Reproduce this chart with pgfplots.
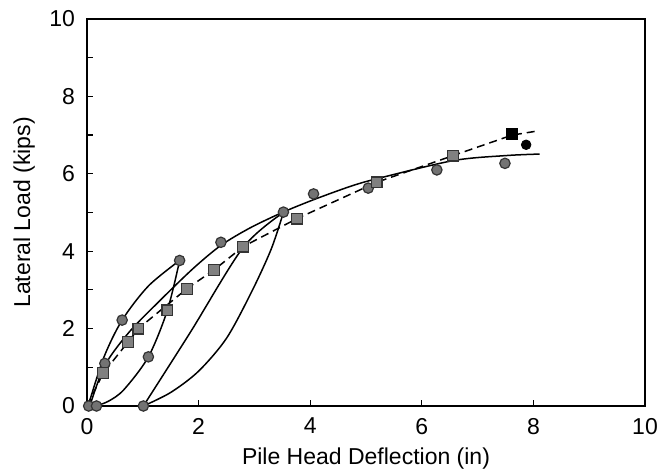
\documentclass[border=0pt]{standalone}
\usepackage{fontspec}
\setmainfont{Liberation Sans}
\usepackage{pgfplots}
\pgfplotsset{compat=1.18}
\usetikzlibrary{calc}
\begin{document}
\fontsize{11.5}{13}\selectfont
\begin{tikzpicture}
\begin{axis}[
  width=279pt, height=193.5pt, scale only axis,
  xmin=0, xmax=10, ymin=0, ymax=10,
  xtick={0,2,...,10}, ytick={0,2,...,10}, minor ytick={1,3,...,9},
  tick pos=left, tick align=inside,
  major tick length=3pt, minor tick length=3pt,
  tick style={black, line width=0.6pt},
  axis line style={line width=0.8pt},
  /pgf/number format/assume math mode=true,
  ticklabel style={font=\fontsize{11.5}{13}\selectfont},
  xticklabel style={yshift=-2pt},
  yticklabel style={xshift=-2pt},
  xlabel={Pile Head Deflection (in)},
  ylabel={Lateral Load (kips)},
  label style={font=\fontsize{11.5}{13}\selectfont},
  xlabel style={at={(axis description cs:0.5,0)}, anchor=north, yshift=-17pt},
  ylabel style={at={([xshift=-22pt]axis description cs:0,0.5)}, anchor=south},
  clip=false,
]
% cycle 1 loading
\addplot[black, line width=0.75pt, smooth] coordinates {(0.02,0) (0.3,1.25) (0.63,2.22) (1.1,3.1) (1.66,3.76)};
% cycle 1 unloading
\addplot[black, line width=0.75pt, smooth] coordinates {(1.66,3.76) (1.44,2.47) (1.1,1.27) (0.66,0.42) (0.38,0.12) (0.15,0)};
% backbone
\addplot[black, line width=0.75pt, smooth] coordinates {(0.05,0) (0.32,1.05) (0.75,1.9) (1.29,2.7) (1.9,3.55) (2.4,4.15) (2.92,4.6) (3.5,5.0) (4.06,5.33) (4.71,5.67) (5.19,5.87) (6.56,6.34) (7.5,6.47) (8.11,6.51)};
% cycle 2 unloading (concave up)
\addplot[black, line width=0.75pt, smooth] coordinates {(1.01,0) (1.5,0.35) (2.0,0.9) (2.5,1.75) (2.95,2.95) (3.3,4.05) (3.52,5.0)};
% cycle 3 reloading
\addplot[black, line width=0.75pt, smooth] coordinates {(1.01,0) (1.85,1.9) (2.8,4.1) (3.52,5.0)};
% dashed square series
\addplot[black, line width=0.75pt, dash pattern=on 4pt off 2.5pt] coordinates {(0,0) (0.29,0.85) (0.74,1.66) (0.92,2.0) (1.79,3.03) (2.28,3.52) (2.80,4.12) (3.76,4.84) (5.19,5.78) (6.56,6.47) (7.62,7.0) (8.09,7.11)};
% circles
\addplot[only marks, mark=*, mark size=2.6pt, mark options={fill=black!55, draw=black!80, line width=0.6pt}] coordinates {(0.03,0) (0.17,0) (1.01,0) (0.32,1.1) (0.63,2.22) (1.1,1.27) (1.66,3.76) (2.4,4.23) (3.52,5.01) (4.06,5.48) (5.04,5.63) (6.27,6.1) (7.49,6.27)};
% squares
\addplot[only marks, mark=square*, mark size=2.7pt, mark options={fill=black!50, draw=black!80, line width=0.6pt}] coordinates {(0.29,0.85) (0.74,1.66) (0.92,2.0) (1.44,2.47) (1.79,3.03) (2.28,3.52) (2.80,4.12) (3.76,4.84) (5.19,5.78) (6.56,6.47)};
% final black markers
\addplot[only marks, mark=square*, mark size=2.7pt, mark options={fill=black, draw=black}] coordinates {(7.62,7.03)};
\addplot[only marks, mark=*, mark size=2.4pt, mark options={fill=black, draw=black}] coordinates {(7.87,6.75)};
\end{axis}
\pgfresetboundingbox
\path ($(current axis.south west)+(-43.5pt,-34pt)$) rectangle ($(current axis.north east)+(11pt,9.5pt)$);
\end{tikzpicture}
\end{document}
